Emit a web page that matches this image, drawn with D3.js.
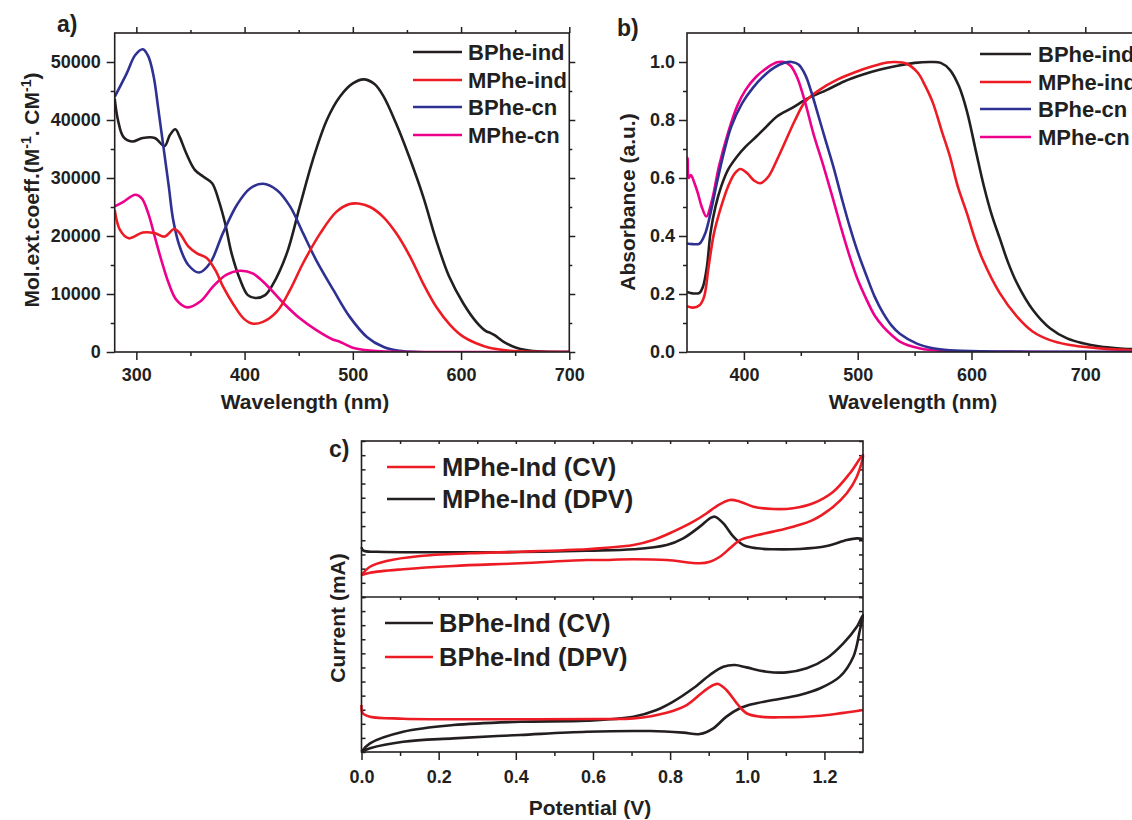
<!DOCTYPE html>
<html>
<head>
<meta charset="utf-8">
<script src="https://cdn.jsdelivr.net/npm/d3@7"></script>
<style>
  body { margin: 0; background: #fff; }
  text { font-family: "Liberation Sans", Arial, sans-serif; font-weight: bold; }
</style>
</head>
<body>
<div id="chart"></div>
<script>
// colours used in the figure
var BLACK = "#231f20", RED = "#ed1c24", BLUE = "#2e3192", PINK = "#ec008c";

// ---- panel a) molar extinction coefficient vs wavelength ----
var aXTicks = [300, 400, 500, 600, 700];
var aYTicks = [0, 10000, 20000, 30000, 40000, 50000];
var aNames = ["BPhe-ind", "MPhe-ind", "BPhe-cn", "MPhe-cn"];
var aBPheInd = [[280,43700],[283,40000],[288,37100],[296,36300],[306,36900],[317,36900],[326,35500],[331,37400],[336,38400],[340,37100],[346,34300],[354,31400],[362,30200],[370,29100],[376,26200],[382,22200],[388,17000],[396,12400],[403,9800],[410,9300],[419,9800],[426,11600],[439,17000],[451,25100],[463,33100],[476,40000],[488,44000],[500,46300],[510,47000],[520,46200],[528,44200],[540,39400],[552,33700],[565,26800],[577,19300],[589,13000],[602,8400],[614,5200],[623,3600],[627,3300],[631,2900],[639,1800],[651,740],[660,350],[675,80],[700,0]];
var aMPheInd = [[280,24500],[285,21000],[293,19600],[306,20600],[317,20500],[326,19900],[335,21200],[340,20500],[348,18200],[356,17000],[365,16200],[373,14100],[380,11300],[390,8100],[399,5800],[407,4900],[417,5200],[430,7000],[442,10700],[454,15300],[470,20500],[485,24200],[497,25500],[505,25600],[516,25000],[528,23300],[540,20500],[553,16400],[565,11800],[577,7800],[590,4650],[602,2640],[614,1500],[626,740],[645,220],[665,40],[700,0]];
var aBPheCn = [[280,44000],[291,48000],[299,51200],[306,52200],[311,51000],[316,47500],[320,42300],[325,35400],[330,28500],[334,22800],[340,18200],[348,15000],[358,13700],[368,15300],[380,20500],[393,25400],[405,28200],[417,29000],[430,27900],[442,25100],[454,20500],[466,15900],[482,10700],[497,6100],[513,2600],[528,900],[543,200],[560,0],[700,0]];
var aMPheCn = [[280,25100],[288,25900],[299,27100],[305,26500],[311,23900],[317,19900],[323,15900],[330,11800],[337,9000],[347,7700],[359,8700],[371,11300],[383,13300],[396,14000],[408,13500],[420,11600],[436,8400],[451,5800],[466,3800],[482,2100],[486,1900],[490,1600],[500,750],[516,230],[531,60],[560,0],[700,0]];

// ---- panel b) normalised absorbance vs wavelength ----
var bXTicks = [400, 500, 600, 700];
var bYTicks = [0, 0.2, 0.4, 0.6, 0.8, 1.0];
var bNames = ["BPhe-ind", "MPhe-ind", "BPhe-cn", "MPhe-cn"];
var bBPheInd = [[350,0.207],[355,0.202],[361,0.204],[364,0.225],[367.5,0.294],[370.6,0.409],[375,0.501],[380,0.570],[386,0.628],[394,0.674],[401.5,0.708],[411,0.743],[420,0.778],[429,0.812],[442,0.841],[457,0.876],[473,0.904],[488,0.933],[504,0.956],[519,0.973],[535,0.987],[550,0.997],[565,1.0],[573,0.997],[581,0.973],[589,0.916],[596,0.83],[604,0.69],[611,0.57],[618,0.47],[625,0.39],[632,0.31],[640,0.237],[654,0.145],[669,0.082],[684,0.047],[698,0.030],[713,0.019],[728,0.013],[750,0.008]];
var bMPheInd = [[350,0.158],[355,0.153],[361,0.161],[365,0.19],[369,0.294],[373.7,0.409],[380,0.501],[386,0.570],[392,0.616],[397,0.631],[403,0.616],[409,0.591],[414.5,0.582],[421.6,0.605],[429,0.662],[437,0.731],[445,0.80],[454,0.864],[466.5,0.904],[482,0.939],[497,0.964],[513,0.985],[526,0.998],[532,1.0],[543,0.994],[553,0.962],[559,0.92],[566,0.86],[574,0.76],[581,0.675],[588,0.57],[596,0.478],[603,0.39],[610,0.317],[625,0.202],[640,0.122],[654,0.07],[669,0.041],[684,0.026],[698,0.018],[720,0.01],[750,0.005]];
var bBPheCn = [[350,0.374],[355,0.372],[361,0.374],[366,0.409],[370.6,0.478],[376.8,0.593],[383,0.697],[389,0.778],[398.5,0.858],[407.7,0.910],[417,0.950],[426,0.979],[435.6,0.997],[442,1.0],[448,0.991],[454,0.955],[459,0.9],[464,0.834],[471,0.74],[478.6,0.639],[486,0.53],[493,0.432],[500,0.345],[508,0.26],[515,0.19],[522.5,0.133],[530,0.09],[537,0.063],[552,0.029],[566,0.013],[581,0.006],[610,0.002],[650,0.001],[750,0]];
var bMPheCn = [[350,0.64],[350.6,0.67],[351.5,0.6],[353.4,0.61],[356.6,0.582],[359.6,0.547],[362.9,0.501],[367,0.467],[372,0.524],[378,0.639],[386,0.755],[394,0.847],[401.5,0.904],[411,0.95],[420,0.979],[429,0.999],[435,1.0],[441,0.987],[447,0.945],[454,0.858],[461,0.754],[470,0.64],[478.6,0.524],[486,0.42],[493,0.329],[500,0.25],[508,0.179],[515,0.125],[522.5,0.087],[530,0.058],[537,0.036],[555,0.012],[575,0.004],[610,0.001],[750,0]];

// ---- panel c) CV / DPV, current in arbitrary units (two stacked frames) ----
var cXTicks = [0, 0.2, 0.4, 0.6, 0.8, 1.0, 1.2];
var cTopNames = ["MPhe-Ind (CV)", "MPhe-Ind (DPV)"];
var cBotNames = ["BPhe-Ind (CV)", "BPhe-Ind (DPV)"];
var cMPheCV = [[0,0.141],[0.022,0.194],[0.065,0.231],[0.152,0.263],[0.281,0.280],[0.411,0.290],[0.584,0.306],[0.618,0.312],[0.705,0.333],[0.756,0.365],[0.808,0.419],[0.860,0.483],[0.895,0.537],[0.921,0.583],[0.955,0.622],[0.981,0.611],[1.016,0.579],[1.067,0.564],[1.119,0.569],[1.171,0.601],[1.223,0.675],[1.266,0.793],[1.3,0.910],
  [1.284,0.771],[1.258,0.665],[1.223,0.579],[1.171,0.494],[1.119,0.451],[1.067,0.419],[1.016,0.391],[0.981,0.365],[0.955,0.312],[0.929,0.258],[0.903,0.226],[0.877,0.216],[0.791,0.237],[0.705,0.242],[0.618,0.237],[0.584,0.237],[0.411,0.216],[0.238,0.199],[0.108,0.178],[0.022,0.156],[0,0.141]];
var cMPheDPV = [[0,0.319],[0.005,0.297],[0.04,0.290],[0.238,0.287],[0.411,0.288],[0.584,0.297],[0.705,0.306],[0.791,0.333],[0.834,0.376],[0.877,0.451],[0.903,0.504],[0.916,0.515],[0.938,0.472],[0.964,0.387],[0.990,0.333],[1.025,0.312],[1.067,0.306],[1.136,0.308],[1.206,0.327],[1.258,0.365],[1.284,0.376],[1.3,0.372]];
var cBPheCV = [[0,0.002],[0.022,0.056],[0.108,0.131],[0.238,0.174],[0.411,0.195],[0.584,0.202],[0.705,0.228],[0.765,0.271],[0.808,0.325],[0.860,0.411],[0.903,0.497],[0.938,0.550],[0.968,0.561],[0.998,0.546],[1.050,0.518],[1.102,0.514],[1.154,0.540],[1.206,0.605],[1.249,0.701],[1.284,0.808],[1.3,0.884],
  [1.292,0.787],[1.275,0.615],[1.240,0.486],[1.189,0.411],[1.136,0.368],[1.067,0.335],[1.016,0.310],[0.981,0.282],[0.946,0.228],[0.912,0.153],[0.877,0.116],[0.834,0.125],[0.748,0.135],[0.584,0.131],[0.411,0.110],[0.238,0.088],[0.108,0.066],[0.022,0.024],[0,0.002]];
var cBPheDPV = [[0,0.303],[0.003,0.250],[0.022,0.228],[0.108,0.215],[0.35,0.211],[0.618,0.213],[0.705,0.217],[0.791,0.254],[0.843,0.303],[0.886,0.389],[0.912,0.432],[0.925,0.439],[0.946,0.400],[0.973,0.314],[0.998,0.250],[1.033,0.228],[1.093,0.224],[1.180,0.232],[1.3,0.271]];

var svg = d3.select("#chart").append("svg")
  .attr("width", 1132).attr("height", 820);

var FONT = '"Liberation Sans", Arial, sans-serif';

function styleAxis(g, size) {
  g.attr("font-size", size).attr("font-family", FONT).attr("font-weight", "bold")
    .style("color", BLACK);
  g.select(".domain").remove();
  g.selectAll("line").attr("stroke-width", 1.5);
}

function curve(g, data, x, y, color) {
  g.append("path")
    .datum(data)
    .attr("fill", "none")
    .attr("stroke", color)
    .attr("stroke-width", 2.6)
    .attr("stroke-linejoin", "round")
    .attr("d", d3.line()
      .x(function (d) { return x(d[0]); })
      .y(function (d) { return y(d[1]); })
      .curve(d3.curveCatmullRom.alpha(0.5)));
}

function legend(g, names, colors, x0, x1, tx, ys, size) {
  names.forEach(function (n, i) {
    g.append("line").attr("x1", x0).attr("x2", x1).attr("y1", ys[i]).attr("y2", ys[i])
      .attr("stroke", colors[i]).attr("stroke-width", 2.6);
    g.append("text").attr("x", tx).attr("y", ys[i]).attr("dy", "0.35em")
      .attr("font-size", size).attr("fill", BLACK).text(n);
  });
}

// spectrum frame with outward ticks on all four sides
function specFrame(x, y, xTicks, xMinor, yTicks, yMinor, yFmt, yPad, xPad) {
  var r = x.range(), t = y.range();
  var xa = svg.append("g").attr("transform", "translate(0," + t[0] + ")")
    .call(d3.axisBottom(x).tickValues(xTicks).tickSize(8).tickPadding(xPad).tickFormat(d3.format("d")));
  styleAxis(xa, 18);
  var xm = svg.append("g").attr("transform", "translate(0," + t[0] + ")")
    .call(d3.axisBottom(x).tickValues(xMinor).tickSize(4).tickFormat(""));
  styleAxis(xm, 18);
  var xt = svg.append("g").attr("transform", "translate(0," + t[1] + ")")
    .call(d3.axisTop(x).tickValues(xTicks).tickSize(6).tickFormat(""));
  styleAxis(xt, 18);
  var xtm = svg.append("g").attr("transform", "translate(0," + t[1] + ")")
    .call(d3.axisTop(x).tickValues(xMinor).tickSize(3).tickFormat(""));
  styleAxis(xtm, 18);
  var ya = svg.append("g").attr("transform", "translate(" + r[0] + ",0)")
    .call(d3.axisLeft(y).tickValues(yTicks).tickSize(8).tickPadding(yPad).tickFormat(yFmt));
  styleAxis(ya, 18);
  var ym = svg.append("g").attr("transform", "translate(" + r[0] + ",0)")
    .call(d3.axisLeft(y).tickValues(yMinor).tickSize(4).tickFormat(""));
  styleAxis(ym, 18);
  var yr = svg.append("g").attr("transform", "translate(" + r[1] + ",0)")
    .call(d3.axisRight(y).tickValues(yTicks).tickSize(6).tickFormat(""));
  styleAxis(yr, 18);
  var yrm = svg.append("g").attr("transform", "translate(" + r[1] + ",0)")
    .call(d3.axisRight(y).tickValues(yMinor).tickSize(3).tickFormat(""));
  styleAxis(yrm, 18);
  svg.append("rect").attr("x", r[0]).attr("y", t[1])
    .attr("width", r[1] - r[0]).attr("height", t[0] - t[1])
    .attr("fill", "none").attr("stroke", BLACK).attr("stroke-width", 1.6);
}

// ===== panel a =====
var xA = d3.scaleLinear().domain([280, 700]).range([114.7, 569.3]);
var yA = d3.scaleLinear().domain([0, 55000]).range([352, 33]);
svg.append("clipPath").attr("id", "clipA").append("rect")
  .attr("x", 114.7).attr("y", 33).attr("width", 569.3 - 114.7).attr("height", 319);
var gA = svg.append("g").attr("clip-path", "url(#clipA)");
curve(gA, aBPheInd, xA, yA, BLACK);
curve(gA, aBPheCn, xA, yA, BLUE);
curve(gA, aMPheCn, xA, yA, PINK);
curve(gA, aMPheInd, xA, yA, RED);
specFrame(xA, yA, aXTicks, [350, 450, 550, 650], aYTicks,
  [5000, 15000, 25000, 35000, 45000], d3.format("d"), 6, 8);
legend(svg, aNames, [BLACK, RED, BLUE, PINK], 413, 462, 468, [52, 80, 107, 135], 22);

svg.append("text").attr("x", 305).attr("y", 409).attr("text-anchor", "middle")
  .attr("font-size", 21).attr("fill", BLACK).text("Wavelength (nm)");
var ta = svg.append("text").attr("transform", "translate(39,190) rotate(-90)")
  .attr("text-anchor", "middle").attr("font-size", 21).attr("fill", BLACK);
ta.append("tspan").text("Mol.ext.coeff.(M");
ta.append("tspan").attr("dy", -8).attr("font-size", 14).text("-1");
ta.append("tspan").attr("dy", 8).text(". CM");
ta.append("tspan").attr("dy", -8).attr("font-size", 14).text("-1");
ta.append("tspan").attr("dy", 8).text(")");
svg.append("text").attr("x", 57).attr("y", 32).attr("font-size", 23).attr("fill", BLACK).text("a)");

// ===== panel b =====
var xB = d3.scaleLinear().domain([350, 750]).range([687, 1142.2]);
var yB = d3.scaleLinear().domain([0, 1.1]).range([352, 33]);
svg.append("clipPath").attr("id", "clipB").append("rect")
  .attr("x", 687).attr("y", 33).attr("width", 1142.2 - 687).attr("height", 319);
var gB = svg.append("g").attr("clip-path", "url(#clipB)");
curve(gB, bBPheInd, xB, yB, BLACK);
curve(gB, bMPheInd, xB, yB, RED);
curve(gB, bMPheCn, xB, yB, PINK);
curve(gB, bBPheCn, xB, yB, BLUE);
specFrame(xB, yB, bXTicks, [450, 550, 650], bYTicks,
  [0.1, 0.3, 0.5, 0.7, 0.9], d3.format(".1f"), 4, 8);
legend(svg, bNames, [BLACK, RED, BLUE, PINK], 980, 1031, 1038, [54, 82, 109, 137], 22);

svg.append("text").attr("x", 913).attr("y", 409).attr("text-anchor", "middle")
  .attr("font-size", 21).attr("fill", BLACK).text("Wavelength (nm)");
svg.append("text").attr("transform", "translate(635,202) rotate(-90)")
  .attr("text-anchor", "middle").attr("font-size", 21).attr("fill", BLACK).text("Absorbance (a.u.)");
svg.append("text").attr("x", 617).attr("y", 36).attr("font-size", 23).attr("fill", BLACK).text("b)");

// ===== panel c =====
var xC = d3.scaleLinear().domain([0, 1.3]).range([361.5, 863]);
var yTop = d3.scaleLinear().domain([0, 1]).range([597, 441]);
var yBot = d3.scaleLinear().domain([0, 1]).range([752, 597]);
var cYTicks = d3.range(12).map(function (i) { return i / 11; });

[yTop, yBot].forEach(function (yy) {
  var l = svg.append("g").attr("transform", "translate(361.5,0)")
    .call(d3.axisRight(yy).tickValues(cYTicks).tickSize(4).tickFormat(""));
  styleAxis(l, 18);
  var r = svg.append("g").attr("transform", "translate(863,0)")
    .call(d3.axisLeft(yy).tickValues(cYTicks).tickSize(4).tickFormat(""));
  styleAxis(r, 18);
});
var cxa = svg.append("g").attr("transform", "translate(0,752)")
  .call(d3.axisBottom(xC).tickValues(cXTicks).tickSize(8).tickPadding(10).tickFormat(d3.format(".1f")));
styleAxis(cxa, 18);
var cxm = svg.append("g").attr("transform", "translate(0,752)")
  .call(d3.axisBottom(xC).tickValues([0.1, 0.3, 0.5, 0.7, 0.9, 1.1]).tickSize(4).tickFormat(""));
styleAxis(cxm, 18);
[441, 597].forEach(function (yy) {
  var t = svg.append("g").attr("transform", "translate(0," + yy + ")")
    .call(d3.axisBottom(xC).tickValues(d3.range(1, 13).map(function (i) { return i / 10; })).tickSize(3).tickFormat(""));
  styleAxis(t, 18);
});

curve(svg, cMPheDPV, xC, yTop, BLACK);
curve(svg, cMPheCV, xC, yTop, RED);
curve(svg, cBPheCV, xC, yBot, BLACK);
curve(svg, cBPheDPV, xC, yBot, RED);

svg.append("rect").attr("x", 361.5).attr("y", 441).attr("width", 863 - 361.5).attr("height", 311)
  .attr("fill", "none").attr("stroke", BLACK).attr("stroke-width", 1.6);
svg.append("line").attr("x1", 361.5).attr("x2", 863).attr("y1", 597).attr("y2", 597)
  .attr("stroke", BLACK).attr("stroke-width", 1.6);

legend(svg, cTopNames, [RED, BLACK], 387, 435, 442, [467, 499], 25.5);
legend(svg, cBotNames, [BLACK, RED], 385, 433, 439, [623, 657], 25.5);

svg.append("text").attr("x", 590).attr("y", 815).attr("text-anchor", "middle")
  .attr("font-size", 21).attr("fill", BLACK).text("Potential (V)");
svg.append("text").attr("transform", "translate(345,618) rotate(-90)")
  .attr("text-anchor", "middle").attr("font-size", 21).attr("fill", BLACK).text("Current (mA)");
svg.append("text").attr("x", 329).attr("y", 457).attr("font-size", 23).attr("fill", BLACK).text("c)");
</script>
</body>
</html>
